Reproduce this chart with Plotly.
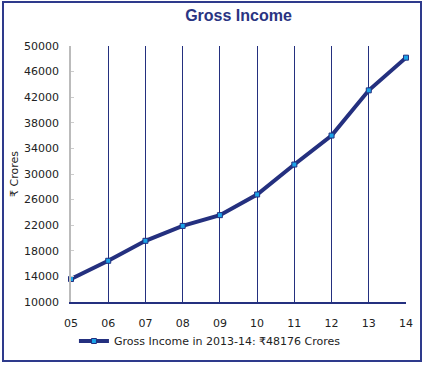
import plotly.graph_objects as go

years = ["05", "06", "07", "08", "09", "10", "11", "12", "13", "14"]
gross_income = [13590, 16440, 19560, 21890, 23570, 26800, 31480, 36010, 43070, 48176]
y_ticks = [10000, 14000, 18000, 22000, 26000, 30000, 34000, 38000, 42000, 46000, 50000]

navy = "#24307f"
xpos = list(range(len(years)))

fig = go.Figure()
fig.add_trace(go.Scatter(
    x=xpos, y=gross_income, mode="lines+markers",
    name="Gross Income in 2013-14: \u20b948176 Crores",
    line=dict(color=navy, width=4),
    marker=dict(symbol="square", size=5, color="#1aa3e8", line=dict(color=navy, width=1)),
    cliponaxis=False,
))

W, H = 425, 365
L, R, T, B = 71, 406, 46, 302
pw, ph = R - L, B - T
fig.add_shape(type="rect", xref="paper", yref="paper",
              x0=(3 - L) / pw, x1=(421 - L) / pw,
              y0=(B - 361) / ph, y1=(B - 2) / ph,
              line=dict(color="#2e3a8c", width=2), layer="below")

fig.update_layout(
    width=W, height=H,
    margin=dict(l=L, r=W - R, t=T, b=H - B, autoexpand=False),
    paper_bgcolor="white", plot_bgcolor="white",
    title=dict(text="<b>Gross Income</b>", x=0.5, xref="paper", xanchor="center",
               y=1 - 15 / H, yref="container", yanchor="middle",
               font=dict(family="Liberation Sans, Arial", size=16, color="#2a3482")),
    font=dict(family="DejaVu Sans", size=11, color="#222222"),
    xaxis=dict(range=[0, 9], tickvals=xpos, ticktext=years,
               showgrid=True, gridcolor=navy, gridwidth=1,
               showline=True, linecolor=navy, linewidth=1.5,
               ticks="", zeroline=False, fixedrange=True,
               ticklabelstandoff=10, automargin=False,
               tickfont=dict(family="DejaVu Sans", size=11, color="#222222")),
    yaxis=dict(range=[10000, 50000], tickvals=y_ticks,
               ticktext=[str(v) for v in y_ticks],
               showgrid=False, zeroline=False,
               showline=True, linecolor="#bbbbbb", linewidth=1.5,
               ticks="inside", ticklen=3, tickcolor="#cccccc",
               ticklabelstandoff=8, automargin=False,
               title=dict(text="\u20b9 Crores", standoff=3,
                          font=dict(family="DejaVu Sans", size=11, color="#222222")),
               tickfont=dict(family="DejaVu Sans", size=11, color="#222222")),
    showlegend=True,
    legend=dict(orientation="h", xref="container", yref="container",
                x=0.494, xanchor="center", y=1 - 341 / H, yanchor="middle",
                font=dict(family="DejaVu Sans", size=11, color="#222222"),
                bgcolor="rgba(0,0,0,0)"),
)

fig.write_html("out.html", config={"displayModeBar": False},
               post_script="document.body.style.margin='0';")
